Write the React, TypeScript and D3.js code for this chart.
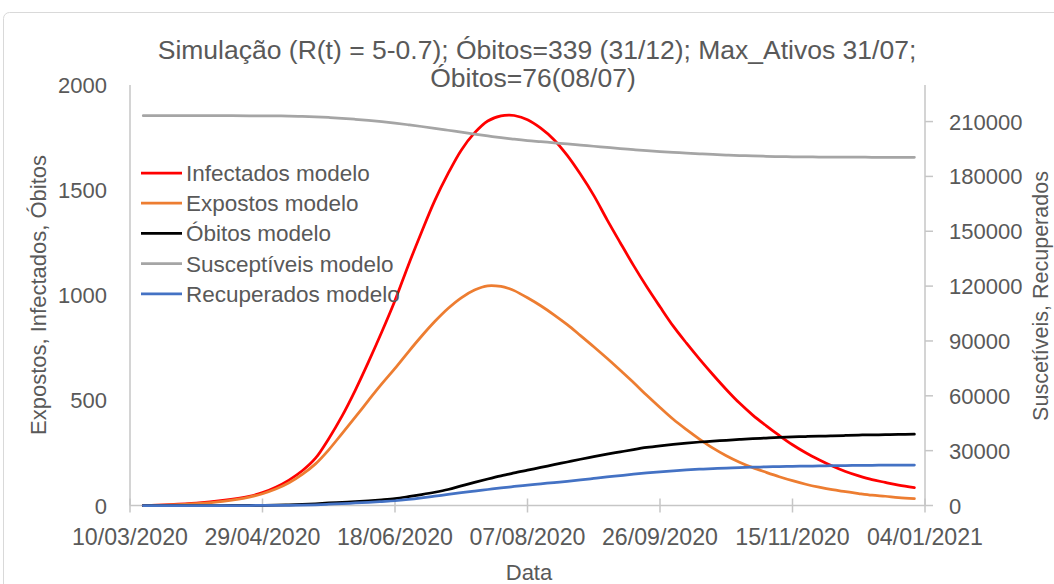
import React from "react";
import * as d3 from "d3";

// days since 10/03/2020
const dias = [5, 15, 25, 35, 45, 50, 55, 60, 65, 70, 75, 80, 85, 90, 95, 100, 105, 110, 115, 120, 125, 130, 135, 140, 143, 145, 150, 155, 160, 165, 170, 175, 180, 185, 190, 195, 200, 205, 210, 215, 220, 225, 230, 235, 240, 245, 250, 255, 260, 265, 270, 275, 280, 285, 290, 296];

const infectados = [0, 4, 11, 24, 44, 61, 87, 121, 165, 225, 318, 425, 548, 683, 825, 975, 1142, 1300, 1450, 1578, 1690, 1772, 1829, 1853, 1857, 1855, 1835, 1795, 1740, 1665, 1575, 1475, 1360, 1250, 1142, 1040, 945, 853, 772, 695, 622, 552, 487, 430, 380, 333, 289, 251, 218, 188, 162, 141, 123, 110, 97, 85];
const expostos = [0, 3, 9, 20, 40, 56, 78, 108, 148, 198, 265, 342, 420, 500, 578, 652, 730, 805, 875, 937, 988, 1025, 1045, 1042, 1032, 1022, 988, 950, 907, 860, 808, 755, 700, 643, 585, 524, 466, 410, 361, 315, 273, 237, 206, 180, 158, 137, 118, 101, 87, 75, 66, 57, 49, 44, 38, 33];
const obitos = [0, 0, 0, 0, 1, 1, 2, 3, 5, 8, 12, 15, 18, 22, 27, 33, 42, 52, 63, 76, 93, 110, 126, 141, 149, 155, 168, 181, 194, 207, 220, 232, 244, 255, 266, 276, 284, 291, 297, 302, 306, 310, 314, 318, 321, 324, 326, 328, 330, 331, 333, 335, 336, 337, 338, 339];
const susceptiveis = [213200, 213200, 213200, 213200, 213180, 213150, 213100, 213000, 212850, 212600, 212250, 211800, 211250, 210650, 209950, 209150, 208250, 207300, 206300, 205250, 204200, 203150, 202150, 201200, 200700, 200350, 199600, 199000, 198400, 197800, 197150, 196500, 195850, 195200, 194650, 194100, 193600, 193150, 192750, 192350, 192000, 191700, 191400, 191200, 191000, 190850, 190750, 190650, 190600, 190550, 190520, 190500, 190480, 190470, 190460, 190450];
const recuperados = [0, 0, 0, 0, 0, 10, 50, 100, 200, 400, 700, 1000, 1400, 1750, 2150, 2600, 3300, 4150, 5100, 6050, 7000, 7900, 8750, 9600, 10100, 10400, 11150, 11850, 12550, 13250, 14000, 14800, 15600, 16350, 17100, 17800, 18400, 18950, 19450, 19850, 20200, 20500, 20750, 20950, 21120, 21280, 21430, 21550, 21650, 21750, 21840, 21920, 21990, 22050, 22100, 22150];

const leftTicks = [0, 500, 1000, 1500, 2000];
const rightTicks = [0, 30000, 60000, 90000, 120000, 150000, 180000, 210000];
const xTickDays = [0, 50, 100, 150, 200, 250, 300];

const titulo = ["Simulação (R(t) = 5-0.7); Óbitos=339 (31/12); Max_Ativos 31/07;", "Óbitos=76(08/07)"];

const start = new Date(Date.UTC(2020, 2, 10));
const toDate = (d: number) => d3.utcDay.offset(start, d);

const FONT = "'Liberation Sans', Arial, sans-serif";
const TXT = "#595959";
const AXIS = "#c6c6c6";

export default function App() {
  const W = 1054, H = 584;
  const left = 130, right = 925, top = 85, bottom = 505.5;

  const x = d3.scaleUtc().domain([start, toDate(300)]).range([left, right]);
  const yL = d3.scaleLinear().domain([0, 2000]).range([bottom, top]);
  const yR = d3.scaleLinear().domain([0, 230000]).range([bottom, top]);
  const fmt = d3.utcFormat("%d/%m/%Y");

  const series = [
    { name: "Infectados modelo", values: infectados, color: "#ff0000", y: yL },
    { name: "Expostos modelo", values: expostos, color: "#ed7d31", y: yL },
    { name: "Óbitos modelo", values: obitos, color: "#000000", y: yL },
    { name: "Susceptíveis modelo", values: susceptiveis, color: "#a5a5a5", y: yR },
    { name: "Recuperados modelo", values: recuperados, color: "#4472c4", y: yR },
  ];

  const mkLine = (vals: number[], ys: d3.ScaleLinear<number, number>) =>
    d3.line<number>()
      .x((_, i) => x(toDate(dias[i])))
      .y((v) => ys(v))
      .curve(d3.curveCatmullRom.alpha(0.5))(vals) || "";

  return (
    <svg width={W} height={H} style={{ position: "absolute", left: 0, top: 0, background: "#fff" }} fontFamily={FONT}>
      <rect x={3.5} y={12.5} width={1200} height={700} rx={6} fill="#fff" stroke="#d9d9d9" />

      {/* title */}
      <text x={537} y={59} textAnchor="middle" fontSize={26.5} fill={TXT}>{titulo[0]}</text>
      <text x={533} y={87} textAnchor="middle" fontSize={26.5} fill={TXT}>{titulo[1]}</text>

      {/* axes */}
      <line x1={left} x2={left} y1={top} y2={bottom} stroke={AXIS} strokeWidth={1.5} />
      <line x1={right} x2={right} y1={top} y2={bottom} stroke={AXIS} strokeWidth={1.5} />
      <line x1={left} x2={right} y1={bottom} y2={bottom} stroke={AXIS} strokeWidth={1.5} />

      {xTickDays.map((d) => {
        const px = x(toDate(d));
        return (
          <g key={d}>
            <line x1={px} x2={px} y1={bottom - 7} y2={bottom + 7} stroke={AXIS} strokeWidth={1.5} />
            <text x={px} y={545} textAnchor="middle" fontSize={23.2} fill={TXT}>{fmt(toDate(d))}</text>
          </g>
        );
      })}

      {leftTicks.map((t) => (
        <text key={t} x={107} y={yL(t) + 8} textAnchor="end" fontSize={22} fill={TXT}>{t}</text>
      ))}

      {rightTicks.map((t) => (
        <g key={t}>
          <line x1={right} x2={right + 8} y1={yR(t)} y2={yR(t)} stroke={AXIS} strokeWidth={1.5} />
          <text x={949} y={yR(t) + 8} fontSize={22} fill={TXT}>{t}</text>
        </g>
      ))}

      {/* axis titles */}
      <text transform="translate(46,295) rotate(-90)" textAnchor="middle" fontSize={22} fill={TXT}>Expostos, Infectados, Óbitos</text>
      <text transform="translate(1048,296) rotate(-90)" textAnchor="middle" fontSize={21.5} fill={TXT}>Suscetíveis, Recuperados</text>
      <text x={529} y={580} textAnchor="middle" fontSize={22} fill={TXT}>Data</text>

      {/* series */}
      {series.map((s) => (
        <path key={s.name} d={mkLine(s.values, s.y)} fill="none" stroke={s.color} strokeWidth={2.75} strokeLinejoin="round" strokeLinecap="round" />
      ))}

      {/* legend */}
      {series.map((s, i) => {
        const ly = 173 + i * 30.2;
        return (
          <g key={s.name}>
            <line x1={141} x2={182} y1={ly} y2={ly} stroke={s.color} strokeWidth={2.75} />
            <text x={186} y={ly + 8} fontSize={22.5} fill={TXT}>{s.name}</text>
          </g>
        );
      })}
    </svg>
  );
}
